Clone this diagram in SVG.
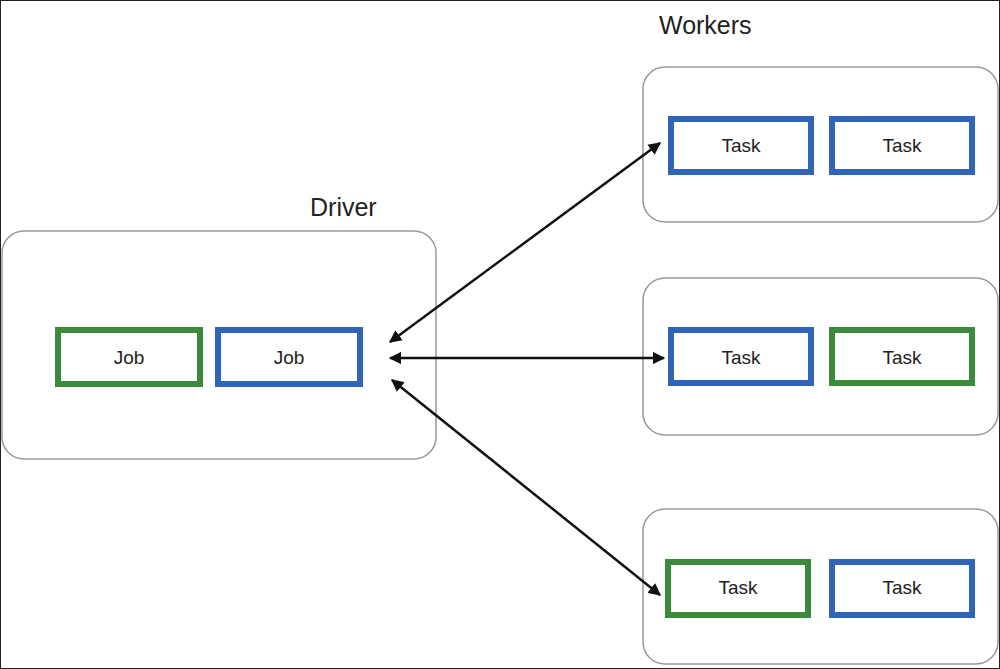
<svg xmlns="http://www.w3.org/2000/svg" width="1000" height="669" viewBox="0 0 1000 669">
<style>
.c{fill:#fff;stroke:#999;stroke-width:1.5}
.g{fill:#fff;stroke:#3c8a3c;stroke-width:6}
.b{fill:#fff;stroke:#2f64b8;stroke-width:6}
text{font-family:"Liberation Sans",Arial,sans-serif;font-size:19px;fill:#222}
.t{text-anchor:middle}
.h{font-size:25px}
.a{stroke:#111;stroke-width:2.5;fill:none;marker-start:url(#m);marker-end:url(#m)}
</style>
<defs><marker id="m" viewBox="0 0 10 10" refX="9" refY="5" markerWidth="5" markerHeight="5" orient="auto-start-reverse"><path d="M0,0L10,5L0,10z" fill="#111"/></marker></defs>
<rect x="0.5" y="0.5" width="999" height="668" fill="#fff" stroke="#222"/>
<text class="h" x="659" y="34">Workers</text>
<text class="h" x="310" y="216">Driver</text>
<g id="driver"><rect class="c" x="2" y="231" width="434" height="228" rx="22"/>
<g id="job1"><rect class="g" x="58" y="330" width="142" height="54"/><text class="t" x="129" y="364">Job</text></g>
<g id="job2"><rect class="b" x="218" y="330" width="142" height="54"/><text class="t" x="289" y="364">Job</text></g></g>
<g id="w1"><rect class="c" x="643" y="67" width="355" height="155" rx="22"/>
<g id="t1"><rect class="b" x="671" y="119" width="140" height="53"/><text class="t" x="741" y="152">Task</text></g>
<g id="t2"><rect class="b" x="832" y="119" width="140" height="53"/><text class="t" x="902" y="152">Task</text></g></g>
<g id="w2"><rect class="c" x="643" y="278" width="355" height="157" rx="22"/>
<g id="t3"><rect class="b" x="671" y="330" width="140" height="53"/><text class="t" x="741" y="364">Task</text></g>
<g id="t4"><rect class="g" x="832" y="330" width="140" height="53"/><text class="t" x="902" y="364">Task</text></g></g>
<g id="w3"><rect class="c" x="643" y="509" width="355" height="155" rx="22"/>
<g id="t5"><rect class="g" x="668" y="562" width="140" height="53"/><text class="t" x="738" y="594">Task</text></g>
<g id="t6"><rect class="b" x="832" y="562" width="140" height="53"/><text class="t" x="902" y="594">Task</text></g></g>
<g id="connectors">
<line class="a" x1="390" y1="342" x2="660" y2="143"/>
<line class="a" x1="390" y1="358" x2="664" y2="358"/>
<line class="a" x1="392" y1="380" x2="660" y2="595"/>
</g>
</svg>
